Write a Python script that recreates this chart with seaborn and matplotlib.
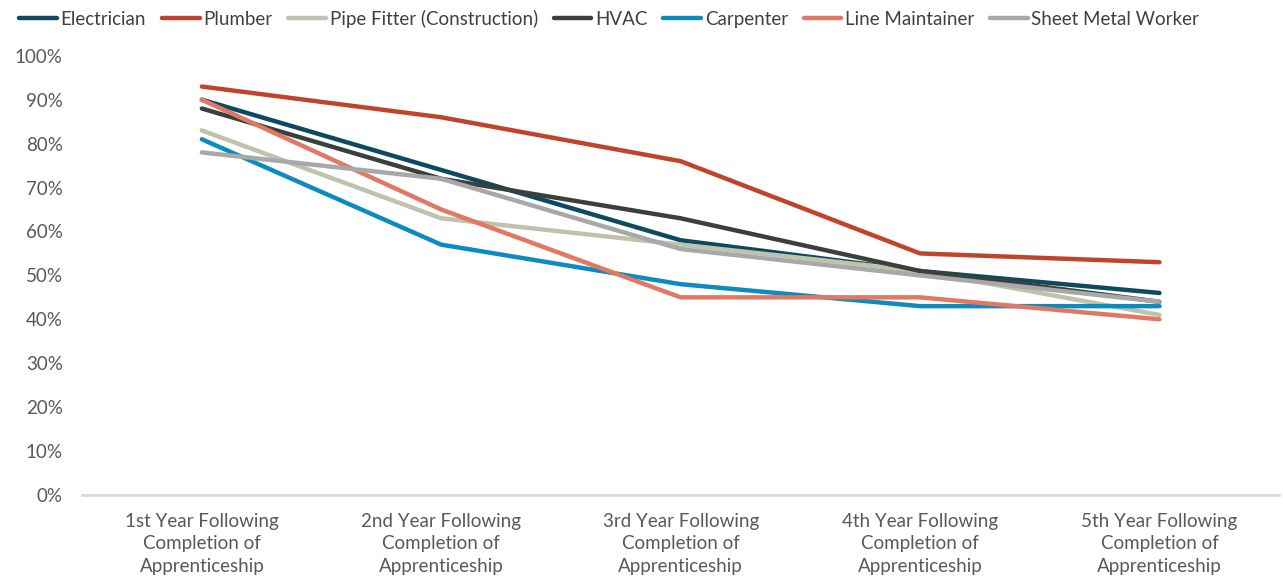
import numpy as np
import pandas as pd
import seaborn as sns
import matplotlib.pyplot as plt
from matplotlib.ticker import PercentFormatter

# %%
years = ["1st Year Following\nCompletion of\nApprenticeship",
         "2nd Year Following\nCompletion of\nApprenticeship",
         "3rd Year Following\nCompletion of\nApprenticeship",
         "4th Year Following\nCompletion of\nApprenticeship",
         "5th Year Following\nCompletion of\nApprenticeship"]
electrician = [90, 74, 58, 51, 46]
plumber = [93, 86, 76, 55, 53]
pipe_fitter = [83, 63, 57, 51, 41]
hvac = [88, 72, 63, 51, 44]
carpenter = [81, 57, 48, 43, 43]
line_maintainer = [90, 65, 45, 45, 40]
sheet_metal = [78, 72, 56, 50, 44]

trades = ["Electrician", "Plumber", "Pipe Fitter (Construction)", "HVAC",
          "Carpenter", "Line Maintainer", "Sheet Metal Worker"]
colors = ["#0E4A5F", "#C0442B", "#BFC2AC", "#3B403D", "#0C8BC1", "#E07862", "#A8A8A8"]

# %%
series = [electrician, plumber, pipe_fitter, hvac, carpenter, line_maintainer, sheet_metal]
rows = []
for name, vals in zip(trades, series):
    for i, v in enumerate(vals):
        rows.append({"trade": name, "x": i, "value": v / 100})
df = pd.DataFrame(rows)

# %%
sns.set_style("white")
plt.rcParams['font.family'] = ['Lato', 'DejaVu Sans']

fig = plt.figure(figsize=(12.83, 5.81), dpi=100)
ax = fig.add_axes([0.064, 0.148, 0.933, 0.756])
sns.lineplot(data=df, x="x", y="value", hue="trade", hue_order=trades,
             palette=colors, linewidth=3.2, ax=ax, legend=False)

ax.set_xlim(-0.5, 4.5)
ax.set_ylim(0, 1.0)
ax.set_yticks(np.arange(0, 1.01, 0.1))
ax.yaxis.set_major_formatter(PercentFormatter(1.0, decimals=0))
ax.set_xticks(range(len(years)))
ax.set_xticklabels(years, fontsize=13.5, color="#595959", linespacing=1.38)
ax.tick_params(axis="y", labelsize=13.5, labelcolor="#595959", length=0, pad=14)
ax.tick_params(axis="x", length=0, pad=13)
ax.set_xlabel("")
ax.set_ylabel("")
for s in ["top", "right", "left"]:
    ax.spines[s].set_visible(False)
ax.spines["bottom"].set_color("#D9D9D9")
ax.spines["bottom"].set_linewidth(2)

handles = [plt.Line2D([], [], color=c, linewidth=3.2) for c in colors]
fig.legend(handles, trades, loc="upper left", bbox_to_anchor=(0.002, 1.012), ncol=7,
           frameon=False, fontsize=13.5, handlelength=2.0, handletextpad=0.2,
           columnspacing=0.85, labelcolor="#404040")

plt.savefig("out.png", dpi=100)
